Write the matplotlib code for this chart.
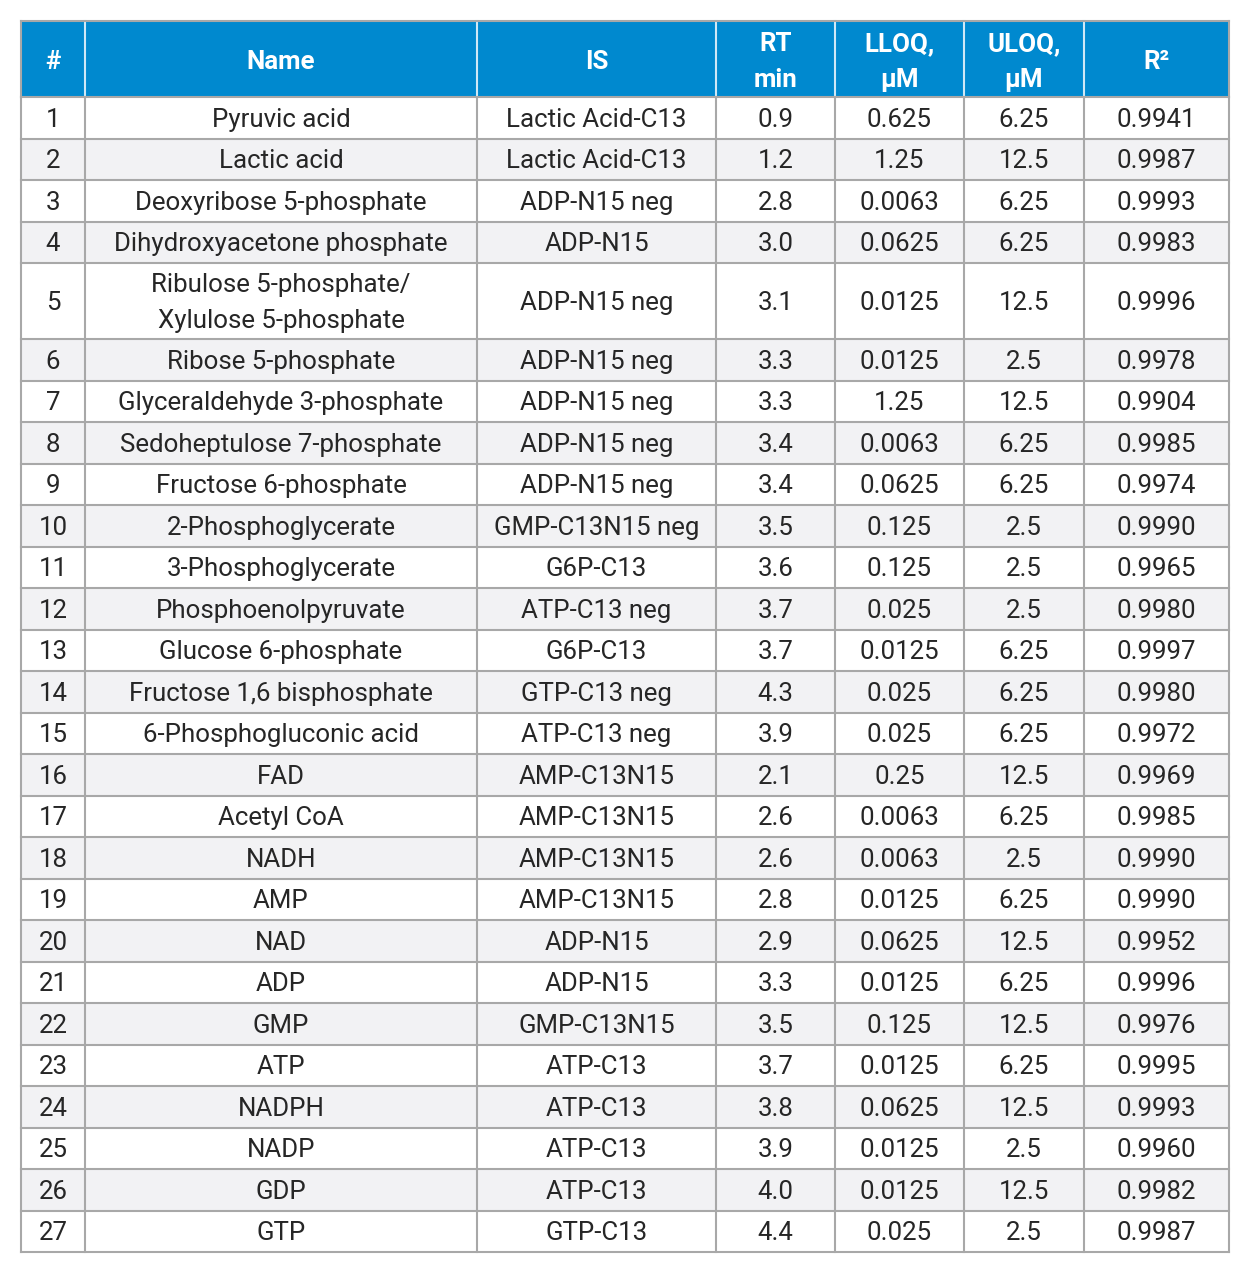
import matplotlib
matplotlib.use("Agg")
import matplotlib.pyplot as plt
from matplotlib.patches import Rectangle

headers = ["#", "Name", "IS", "RT\nmin", "LLOQ,\nµM", "ULOQ,\nµM", "R²"]
ids = [str(i) for i in range(1, 28)]
names = ["Pyruvic acid", "Lactic acid", "Deoxyribose 5-phosphate", "Dihydroxyacetone phosphate",
         "Ribulose 5-phosphate/\nXylulose 5-phosphate", "Ribose 5-phosphate", "Glyceraldehyde 3-phosphate",
         "Sedoheptulose 7-phosphate", "Fructose 6-phosphate", "2-Phosphoglycerate", "3-Phosphoglycerate",
         "Phosphoenolpyruvate", "Glucose 6-phosphate", "Fructose 1,6 bisphosphate", "6-Phosphogluconic acid",
         "FAD", "Acetyl CoA", "NADH", "AMP", "NAD", "ADP", "GMP", "ATP", "NADPH", "NADP", "GDP", "GTP"]
internal_std = ["Lactic Acid-C13", "Lactic Acid-C13", "ADP-N15 neg", "ADP-N15", "ADP-N15 neg", "ADP-N15 neg",
                "ADP-N15 neg", "ADP-N15 neg", "ADP-N15 neg", "GMP-C13N15 neg", "G6P-C13", "ATP-C13 neg",
                "G6P-C13", "GTP-C13 neg", "ATP-C13 neg", "AMP-C13N15", "AMP-C13N15", "AMP-C13N15",
                "AMP-C13N15", "ADP-N15", "ADP-N15", "GMP-C13N15", "ATP-C13", "ATP-C13", "ATP-C13",
                "ATP-C13", "GTP-C13"]
rt_min = ["0.9", "1.2", "2.8", "3.0", "3.1", "3.3", "3.3", "3.4", "3.4", "3.5", "3.6", "3.7", "3.7", "4.3",
          "3.9", "2.1", "2.6", "2.6", "2.8", "2.9", "3.3", "3.5", "3.7", "3.8", "3.9", "4.0", "4.4"]
lloq = ["0.625", "1.25", "0.0063", "0.0625", "0.0125", "0.0125", "1.25", "0.0063", "0.0625", "0.125",
        "0.125", "0.025", "0.0125", "0.025", "0.025", "0.25", "0.0063", "0.0063", "0.0125", "0.0625",
        "0.0125", "0.125", "0.0125", "0.0625", "0.0125", "0.0125", "0.025"]
uloq = ["6.25", "12.5", "6.25", "6.25", "12.5", "2.5", "12.5", "6.25", "6.25", "2.5", "2.5", "2.5", "6.25",
        "6.25", "6.25", "12.5", "6.25", "2.5", "6.25", "12.5", "6.25", "12.5", "6.25", "12.5", "2.5",
        "12.5", "2.5"]
r2 = ["0.9941", "0.9987", "0.9993", "0.9983", "0.9996", "0.9978", "0.9904", "0.9985", "0.9974", "0.9990",
      "0.9965", "0.9980", "0.9997", "0.9980", "0.9972", "0.9969", "0.9985", "0.9990", "0.9990", "0.9952",
      "0.9996", "0.9976", "0.9995", "0.9993", "0.9960", "0.9982", "0.9987"]

W, H = 1251, 1280
col_edges = [21, 85, 477, 716, 835, 964, 1084, 1229]
top = 21
header_h = 76
line_h = 41.5
extra_line = 34.5

plt.rcParams['font.family'] = ['Roboto', 'DejaVu Sans']
fig = plt.figure(figsize=(W / 100, H / 100), dpi=100)
ax = fig.add_axes([0, 0, 1, 1])
ax.set_xlim(0, W)
ax.set_ylim(H, 0)
ax.axis('off')

header_col = '#0089CF'
grid_col = '#A8A8A8'
alt_col = '#F2F2F4'
text_col = '#262626'
fs = 18.6

# header
ax.add_patch(Rectangle((col_edges[0], top), col_edges[-1] - col_edges[0], header_h,
                       facecolor=header_col, edgecolor='none', zorder=1))
for j, h in enumerate(headers):
    cx = (col_edges[j] + col_edges[j + 1]) / 2
    ax.text(cx, top + header_h / 2 + 3, h, ha='center', va='center', color='white',
            fontsize=fs, fontweight='bold', linespacing=1.6, zorder=3)
for x in col_edges[1:-1]:
    ax.plot([x, x], [top, top + header_h], color='#CFE8F6', lw=1.5, zorder=2)

rows = list(zip(ids, names, internal_std, rt_min, lloq, uloq, r2))
y = top + header_h
row_bounds = [y]
for i, row in enumerate(rows):
    nlines = max(c.count('\n') + 1 for c in row)
    rh = line_h + (nlines - 1) * extra_line
    if i % 2 == 1:
        ax.add_patch(Rectangle((col_edges[0], y), col_edges[-1] - col_edges[0], rh,
                               facecolor=alt_col, edgecolor='none', zorder=1))
    for j, c in enumerate(row):
        cx = (col_edges[j] + col_edges[j + 1]) / 2
        ax.text(cx, y + rh / 2 + 2, c, ha='center', va='center', color=text_col,
                fontsize=fs, linespacing=1.6, zorder=3)
    y += rh
    row_bounds.append(y)

bottom = y
# grid lines
for yb in row_bounds:
    ax.plot([col_edges[0], col_edges[-1]], [yb, yb], color=grid_col, lw=1.5, zorder=2)
for x in col_edges:
    ax.plot([x, x], [top + header_h, bottom], color=grid_col, lw=1.5, zorder=2)
ax.plot([col_edges[0], col_edges[-1]], [top, top], color=grid_col, lw=1.5, zorder=2)
ax.plot([col_edges[0], col_edges[0]], [top, top + header_h], color=grid_col, lw=1.5, zorder=2)
ax.plot([col_edges[-1], col_edges[-1]], [top, top + header_h], color=grid_col, lw=1.5, zorder=2)

fig.savefig('out.png', dpi=100, facecolor='white')
